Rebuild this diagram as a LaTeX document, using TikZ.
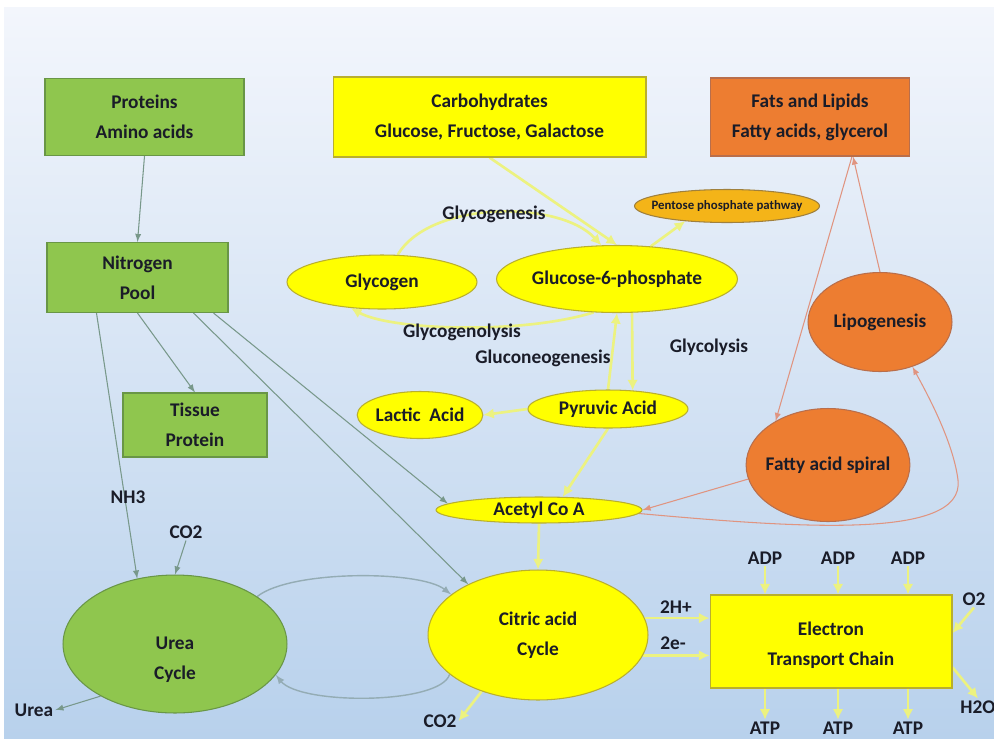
\documentclass[tikz,border=0pt]{standalone}
\usepackage{fontspec}
\setmainfont{Carlito}
\usetikzlibrary{arrows,arrows.meta,shapes.geometric,backgrounds}

\definecolor{boxgreen}{RGB}{143,198,78}
\definecolor{greenedge}{RGB}{105,150,70}
\definecolor{boxyellow}{RGB}{255,255,0}
\definecolor{yellowedge}{RGB}{185,175,45}
\definecolor{boxorange}{RGB}{237,125,49}
\definecolor{orangeedge}{RGB}{185,110,75}
\definecolor{pppfill}{RGB}{244,180,24}
\definecolor{pppedge}{RGB}{160,128,60}
\definecolor{inktext}{RGB}{26,28,40}
\definecolor{nline}{RGB}{120,152,138}
\definecolor{loopline}{RGB}{148,172,180}
\definecolor{fatline}{RGB}{224,148,128}
\definecolor{gline}{RGB}{236,242,128}
\definecolor{bgtop}{RGB}{243,246,252}
\definecolor{bgmid}{RGB}{214,228,244}
\definecolor{bgbot}{RGB}{184,209,236}

\begin{document}
\begin{tikzpicture}[>=latex, x=0.02cm, y=-0.02cm,
  every node/.style={text=inktext, font=\bfseries\fontsize{11}{17}\selectfont},
  greenbox/.style={draw=greenedge, fill=boxgreen, line width=0.6pt, align=center, inner sep=0pt},
  yellowbox/.style={draw=yellowedge, fill=boxyellow, line width=0.6pt, align=center, inner sep=0pt},
  orangebox/.style={draw=orangeedge, fill=boxorange, line width=0.6pt, align=center, inner sep=0pt},
  greenell/.style={ellipse, draw=greenedge, fill=boxgreen, line width=0.6pt, align=center, inner sep=0pt},
  yellowell/.style={ellipse, draw=yellowedge, fill=boxyellow, line width=0.6pt, align=center, inner sep=0pt},
  orangeell/.style={ellipse, draw=orangeedge, fill=boxorange, line width=0.6pt, align=center, inner sep=0pt},
  lbl/.style={inner sep=1pt},
  nlink/.style={draw=nline, line width=0.6pt, ->},
  looplink/.style={draw=loopline, line width=0.8pt, ->},
  flink/.style={draw=fatline, line width=0.6pt, ->},
  ylink/.style={draw=gline, line width=1.5pt, -{Latex[length=6pt,width=6pt]}}]
		%\draw [help lines] (0,0) grid (994,738);
		\useasboundingbox (0,0) rectangle (994,738);
		\begin{scope}[on background layer]
			\fill [white] (0,0) rectangle (994,738);
			\shade [top color=bgtop, middle color=bgmid, bottom color=bgbot] (4,7) rectangle (994,738);
		\end{scope}

		% food groups
		\node [greenbox, minimum width=3.98cm, minimum height=1.54cm] (prot) at (144.5,117) {Proteins\\Amino acids};
		\node [yellowbox, minimum width=6.26cm, minimum height=1.60cm] (carb) at (489.5,117) {Carbohydrates\\Glucose, Fructose, Galactose};
		\node [orangebox, minimum width=3.98cm, minimum height=1.56cm] (fats) at (810,117) {Fats and Lipids\\Fatty acids, glycerol};

		% carbohydrate side
		\node [ellipse, draw=pppedge, fill=pppfill, line width=0.6pt, inner xsep=-6.5pt, inner ysep=0pt, minimum width=3.70cm, minimum height=0.66cm, font=\bfseries\fontsize{7.3}{9}\selectfont] (ppp) at (727,206) {Pentose phosphate pathway};
		\node [lbl] (glycgen) at (494,214) {Glycogenesis};
		\node [yellowell, minimum width=3.80cm, minimum height=1.08cm] (glycogen) at (382,282) {Glycogen};
		\node [yellowell, minimum width=4.82cm, minimum height=1.34cm] (g6p) at (617,279) {Glucose-6-phosphate};
		\node [lbl] (glycolys) at (462,332) {Glycogenolysis};
		\node [lbl] (gluconeo) at (543,358) {Gluconeogenesis};
		\node [lbl] (glycolysis) at (709,347) {Glycolysis};
		\node [yellowell, minimum width=2.50cm, minimum height=0.94cm] (lactic) at (420,415) {Lactic~ Acid};
		\node [yellowell, minimum width=3.20cm, minimum height=0.76cm] (pyruvic) at (608,409) {Pyruvic Acid};
		\node [yellowell, minimum width=4.12cm, minimum height=0.52cm] (acetyl) at (539,510) {Acetyl Co A};
		\node [yellowell, minimum width=4.40cm, minimum height=2.60cm] (citric) at (538,635) {Citric acid\\Cycle};

		% fat side
		\node [orangeell, minimum width=2.88cm, minimum height=1.98cm] (lipo) at (880,322) {Lipogenesis};
		\node [orangeell, inner xsep=-2.5pt, minimum width=3.24cm, minimum height=2.26cm] (fatty) at (828,465) {Fatty acid spiral};

		% protein side
		\node [greenbox, minimum width=3.62cm, minimum height=1.40cm] (npool) at (137.5,277.5) {Nitrogen\\Pool};
		\node [greenbox, minimum width=2.88cm, minimum height=1.28cm] (tissue) at (195,425) {Tissue\\Protein};
		\node [greenell, minimum width=4.48cm, minimum height=2.76cm] (urea) at (175,644) {\rule{0pt}{25pt}Urea\\Cycle};
		\node [lbl] (nh3) at (128,497) {NH3};
		\node [lbl] (co2a) at (186,532) {CO2};
		\node [lbl] (urealbl) at (34,710) {Urea};

		% electron transport chain
		\node [yellowbox, minimum width=4.84cm, minimum height=1.86cm] (etc) at (831,641.5) {\rule{0pt}{12pt}Electron\\Transport Chain};
		\node [lbl] (co2b) at (440,721) {CO2};
		\node [lbl] (hplus) at (676,607) {2H+};
		\node [lbl] (eminus) at (673,643) {2e-};
		\node [lbl] (otwo) at (974,599) {O2};
		\node [lbl] (htwoo) at (978,707) {H2O};
		\foreach \i/\x in {1/765, 2/838, 3/908} {
			\node [lbl] (adp\i) at (\x,558) {ADP};
			\node [lbl] (atp\i) at (\x,728) {ATP};
		}

		\begin{scope}[on background layer]
		% protein connectors
		\draw [nlink] (prot.south) -- (npool.north);
		\draw [nlink] (npool.south) -- (tissue.north);
		\draw [nlink] ([xshift=1cm]npool.south west) -- (urea.120);
		\draw [nlink] ([xshift=-0.3cm]npool.south east) -- (acetyl.176);
		\draw [nlink] ([xshift=-0.7cm]npool.south east) -- (citric.144);
		\draw [nlink] (co2a.south) -- (urea.north);
		\draw [nlink] (urea.215) -- (urealbl.east);
		\draw [looplink] (urea.30) .. controls (290,570) and (420,570) .. (citric.155);
		\draw [looplink] (citric.204) .. controls (440,705) and (300,705) .. (urea.343);

		% carbohydrate connectors
		\draw [ylink] (carb.south) -- (g6p.north);
		\draw [ylink] (g6p.44) -- (ppp.200);
		\draw [ylink] (glycogen.60) .. controls (430,200) and (560,200) .. (g6p.115);
		\draw [ylink] (g6p.235) .. controls (520,335) and (390,330) .. (glycogen.220);
		\draw [ylink] (g6p.-66) -- (pyruvic.37);
		\draw [ylink] (pyruvic.north) -- (g6p.south);
		\draw [ylink] (pyruvic.west) -- (lactic.east);
		\draw [ylink] (pyruvic.south) -- (acetyl.29);
		\draw [ylink] (acetyl.south) -- (citric.north);
		\draw [ylink] (citric.225) -- (co2b.east);
		\draw [ylink] (citric.9) -- (citric.9 -| etc.west);
		\draw [ylink] (citric.-11) -- (citric.-11 -| etc.west);
		\foreach \i in {1,2,3} {
			\draw [ylink] (adp\i.south) -- (adp\i.south |- etc.north);
			\draw [ylink] (atp\i.north |- etc.south) -- (atp\i.north);
		}
		\draw [ylink] (otwo.south) -- (etc.4);
		\draw [ylink] (etc.-12) -- (htwoo.north);

		% fat connectors
		\draw [flink] ([xshift=0.84cm]fats.south) -- (fatty.140);
		\draw [flink] (lipo.north) -- ([xshift=0.86cm]fats.south);
		\draw [flink] (fatty.190) -- (acetyl.east);
		\draw [flink] (acetyl.-2) .. controls (800,528) and (965,540) .. (958,480) .. controls (953,440) and (925,390) .. (lipo.-54);
		\end{scope}
	\end{tikzpicture}
\end{document}
